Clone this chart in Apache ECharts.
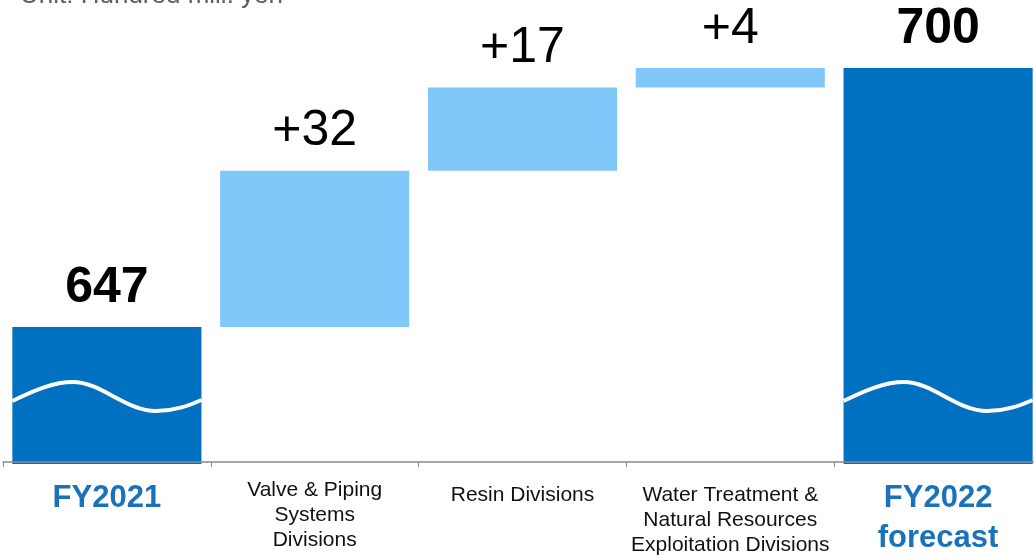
<!DOCTYPE html>
<html>
<head>
<meta charset="utf-8">
<script src="https://cdn.jsdelivr.net/npm/echarts@6/dist/echarts.min.js"></script>
<style>
  html, body { margin: 0; padding: 0; background: #ffffff; }
  #chart { width: 1034px; height: 556px; }
</style>
</head>
<body>
<div id="chart"></div>
<script>
// Net sales bridge, FY2021 -> FY2022 forecast (hundred million yen)
const categories = [
  'FY2021',
  'Valve & Piping\nSystems\nDivisions',
  'Resin Divisions',
  'Water Treatment &\nNatural Resources\nExploitation Divisions',
  'FY2022\nforecast'
];
const totals = [647, null, null, null, 700];
const changes = [null, 32, 17, 4, null];
const unitLabel = 'Unit: Hundred mill. yen';

const DARK = '#0070c0';
const LIGHT = '#80c7fa';
const FONT = '"Liberation Sans", Arial, sans-serif';

// Waterfall rows: [index, low, high, kind]  kind 0 = total, 1 = step
const rows = [];
let level = 0;
categories.forEach((c, i) => {
  if (totals[i] != null) {
    level = totals[i];
    rows.push([i, totals[i], totals[i], 0]);
  } else {
    const lo = level;
    level += changes[i];
    rows.push([i, lo, level, 1]);
  }
});

function labelText(i) {
  return totals[i] != null ? String(totals[i]) : '+' + changes[i];
}

function renderItem(params, api) {
  const i = api.value(0);
  const lo = api.value(1);
  const hi = api.value(2);
  const kind = api.value(3);
  const band = api.size([1, 0])[0];
  const w = band * 0.91;
  const top = api.coord([i, hi]);
  const x0 = top[0] - w / 2;
  const cs = params.coordSys;
  const base = cs.y + cs.height;
  const children = [];

  if (kind === 0) {
    children.push({
      type: 'rect',
      shape: { x: x0, y: top[1], width: w, height: base - top[1] + 2 },
      style: { fill: DARK }
    });
    // white wave across the lower part of the total bars
    const h = f => base - f;
    const px = t => x0 + t * w;
    const d = 'M ' + x0 + ' ' + h(61) +
      ' C ' + px(0.12) + ' ' + h(72) + ' ' + px(0.22) + ' ' + h(80) + ' ' + px(0.32) + ' ' + h(80) +
      ' C ' + px(0.47) + ' ' + h(80) + ' ' + px(0.60) + ' ' + h(51) + ' ' + px(0.76) + ' ' + h(51) +
      ' C ' + px(0.87) + ' ' + h(51) + ' ' + px(0.95) + ' ' + h(58) + ' ' + (x0 + w) + ' ' + h(62);
    children.push({
      type: 'path',
      shape: { pathData: d },
      style: { fill: 'none', stroke: '#ffffff', lineWidth: 4 }
    });
  } else {
    const bot = api.coord([i, lo]);
    children.push({
      type: 'rect',
      shape: { x: x0, y: top[1], width: w, height: bot[1] - top[1] },
      style: { fill: LIGHT }
    });
  }

  children.push({
    type: 'text',
    style: {
      text: labelText(i),
      x: top[0],
      y: top[1] - 14,
      align: 'center',
      verticalAlign: 'bottom',
      font: (kind === 0 ? 'bold ' : '') + '50px ' + FONT,
      fill: '#000000'
    }
  });

  return { type: 'group', children: children };
}

// extra top spacing for some category labels (in px)
const labelDrop = { 2: 5, 3: 5 };

const chart = echarts.init(document.getElementById('chart'), null, { renderer: 'canvas' });

chart.setOption({
  animation: false,
  backgroundColor: '#ffffff',
  textStyle: { fontFamily: FONT },
  grid: { left: 3, width: 1039, top: 0, height: 462, containLabel: false, outerBoundsMode: 'none' },
  graphic: [{
    type: 'text',
    left: 20,
    top: -17,
    style: {
      text: unitLabel,
      font: '26px ' + FONT,
      fill: '#606060'
    }
  }],
  xAxis: {
    type: 'category',
    data: categories,
    z: 10,
    axisLine: { show: true, lineStyle: { color: '#8a8a8a', width: 1.5 } },
    axisTick: { show: true, length: 5, interval: 0, lineStyle: { color: '#8a8a8a', width: 1 } },
    axisLabel: {
      interval: 0,
      margin: 16,
      hideOverlap: false,
      formatter: function (value, index) {
        const lines = value.split('\n');
        if (totals[index] != null) {
          return lines.map(s => '{fy|' + s + '}').join('\n');
        }
        let out = lines.map(s => '{d|' + s + '}').join('\n');
        if (labelDrop[index]) out = '{g' + labelDrop[index] + '| }\n' + out;
        return out;
      },
      rich: {
        fy: { fontFamily: FONT, fontSize: 31, fontWeight: 'bold', color: '#1a72bb', lineHeight: 40, align: 'center' },
        d: { fontFamily: FONT, fontSize: 21, color: '#111111', lineHeight: 25, align: 'center' },
        g5: { fontSize: 1, lineHeight: 5 }
      }
    },
    splitLine: { show: false }
  },
  yAxis: {
    type: 'value',
    min: 619.38,
    max: 713.92,
    show: false,
    splitLine: { show: false }
  },
  series: [{
    type: 'custom',
    renderItem: renderItem,
    clip: false,
    encode: { x: 0, y: [1, 2] },
    data: rows
  }]
});
</script>
</body>
</html>
